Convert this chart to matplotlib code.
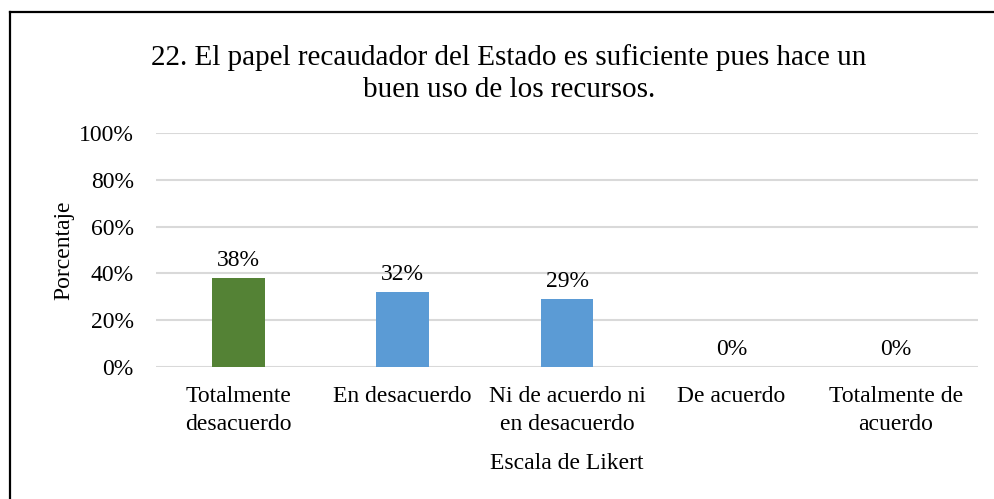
import numpy as np
import matplotlib.pyplot as plt
from matplotlib.lines import Line2D

plt.rcParams['font.family'] = ['Liberation Serif', 'DejaVu Serif']

# Data
categorias = ["Totalmente\ndesacuerdo", "En desacuerdo", "Ni de acuerdo ni\nen desacuerdo",
              "De acuerdo", "Totalmente de\nacuerdo"]
porcentajes = [0.38, 0.32, 0.29, 0.0, 0.0]
colores = ["#548235", "#5b9bd5", "#5b9bd5", "#5b9bd5", "#5b9bd5"]
yticks = [0, 0.2, 0.4, 0.6, 0.8, 1.0]

fig = plt.figure(figsize=(9.94, 4.99), dpi=100)
ax = fig.add_axes([0.157, 0.2645, 0.827, 0.469])

x = np.arange(len(categorias))
ax.bar(x, porcentajes, width=0.32, color=colores, zorder=3)

for xi, v in zip(x, porcentajes):
    ax.annotate(f"{v:.0%}", (xi, v), xytext=(0, 5), textcoords="offset points",
                ha="center", va="bottom", fontsize=17)

ax.set_xlim(-0.5, len(categorias) - 0.5)
ax.set_ylim(0, 1.0)
ax.set_yticks(yticks)
ax.set_yticklabels([f"{t:.0%}" for t in yticks], fontsize=17)
ax.set_xticks(x)
ax.set_xticklabels(categorias, fontsize=17, linespacing=1.38)
ax.tick_params(axis="both", length=0)
ax.tick_params(axis="x", pad=14)
ax.tick_params(axis="y", pad=16)
ax.grid(axis="y", color="#d9d9d9", linewidth=1.5, zorder=0)
for s in ax.spines.values():
    s.set_visible(False)

ax.set_ylabel("Porcentaje", fontsize=17, labelpad=3)
ax.set_xlabel("Escala de Likert", fontsize=17, labelpad=13)

fig.text(0.512, 0.853, "22. El papel recaudador del Estado es suficiente pues hace un\nbuen uso de los recursos.",
         ha="center", va="center", fontsize=21, linespacing=1.3)

# marco exterior (solo lados izquierdo y superior visibles)
fig.add_artist(Line2D([0.0105, 0.0105], [0.0, 0.976], color="black", linewidth=1.6, transform=fig.transFigure))
fig.add_artist(Line2D([0.0105, 1.0], [0.976, 0.976], color="black", linewidth=1.6, transform=fig.transFigure))

plt.savefig("out.png", dpi=100)
